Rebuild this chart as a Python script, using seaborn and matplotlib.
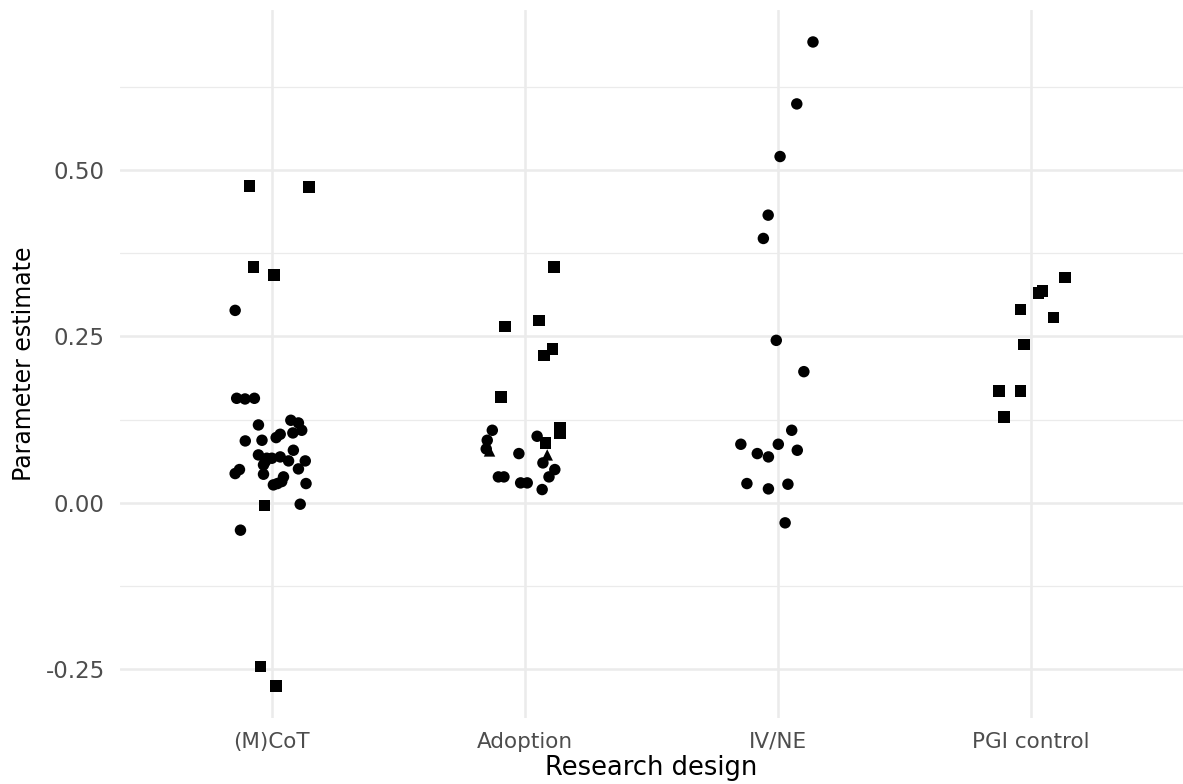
import numpy as np
import pandas as pd
import matplotlib
matplotlib.use("Agg")
import matplotlib.pyplot as plt
from matplotlib.ticker import MultipleLocator
import seaborn as sns

categories = ["(M)CoT", "Adoption", "IV/NE", "PGI control"]

# (M)CoT
mcot_est = [0.476, 0.474, 0.354, 0.342, 0.289, -0.004, -0.041, -0.246, -0.275,
            0.157, 0.156, 0.157, 0.117, 0.124, 0.120, 0.109, 0.105, 0.103, 0.098,
            0.093, 0.094, 0.079, 0.072, 0.067, 0.067, 0.069, 0.063, 0.063, 0.057,
            0.062, 0.050, 0.044, 0.051, 0.043, 0.039, 0.032, 0.027, 0.029, 0.029,
            -0.002]
mcot_jit = [-0.089, 0.146, -0.072, 0.009, -0.145, -0.028, -0.124, -0.044, 0.016,
            -0.139, -0.106, -0.069, -0.053, 0.075, 0.105, 0.118, 0.083, 0.033, 0.017,
            -0.105, -0.039, 0.085, -0.053, -0.020, 0.000, 0.033, 0.066, 0.132, -0.033,
            -0.026, -0.128, -0.145, 0.105, -0.033, 0.046, 0.039, 0.006, 0.022, 0.135,
            0.112]
mcot_shape = ["square", "square", "square", "square", "circle", "square", "circle", "square", "square"] + ["circle"] * 31

# Adoption
adop_est = [0.354, 0.274, 0.265, 0.231, 0.221, 0.159,
            0.109, 0.094, 0.081, 0.078, 0.074, 0.100, 0.090, 0.072, 0.060,
            0.113, 0.104, 0.050, 0.039, 0.039, 0.039, 0.030, 0.030, 0.020]
adop_jit = [0.114, 0.055, -0.079, 0.108, 0.075, -0.095,
            -0.129, -0.149, -0.153, -0.140, -0.024, 0.048, 0.082, 0.088, 0.071,
            0.138, 0.138, 0.118, 0.095, -0.105, -0.083, -0.017, 0.009, 0.068]
adop_shape = ["square"] * 6 + ["circle", "circle", "circle", "triangle", "circle", "circle",
                               "square", "triangle", "circle", "square", "square",
                               "circle", "circle", "circle", "circle", "circle", "circle", "circle"]

# IV/NE
ivne_est = [0.692, 0.599, 0.520, 0.432, 0.397, 0.244, 0.197, 0.109, 0.088, 0.088,
            0.079, 0.074, 0.069, 0.029, 0.021, 0.028, -0.030]
ivne_jit = [0.138, 0.074, 0.008, -0.039, -0.058, -0.007, 0.102, 0.054, -0.147, 0.001,
            0.076, -0.082, -0.038, -0.123, -0.038, 0.039, 0.028]
ivne_shape = ["circle"] * 17

# PGI control
pgi_est = [0.338, 0.318, 0.315, 0.290, 0.278, 0.238, 0.168, 0.168, 0.129]
pgi_jit = [0.134, 0.045, 0.028, -0.041, 0.088, -0.029, -0.127, -0.041, -0.108]
pgi_shape = ["square"] * 9

groups = [(mcot_est, mcot_jit, mcot_shape), (adop_est, adop_jit, adop_shape),
          (ivne_est, ivne_jit, ivne_shape), (pgi_est, pgi_jit, pgi_shape)]

rows = []
for i, (est, jit, shp) in enumerate(groups):
    for e, j, s in zip(est, jit, shp):
        rows.append({"design": categories[i], "pos": i + j, "estimate": e, "shape": s})
df = pd.DataFrame(rows)

sns.set_theme(style="white")
plt.rcParams["font.family"] = ["DejaVu Sans"]

fig = plt.figure(figsize=(11.83, 7.84), dpi=100)
ax = fig.add_axes([120 / 1183, 66 / 784, 1063 / 1183, 708 / 784])

sns.scatterplot(data=df, x="pos", y="estimate", style="shape",
                markers={"circle": "o", "square": "s", "triangle": "^"},
                color="black", edgecolor="none", s=68, legend=False, ax=ax, zorder=3)

ax.set_xlim(-0.6, 3.6)
ax.set_ylim(-0.323, 0.740)
ax.set_xticks(range(len(categories)))
ax.set_xticklabels(categories)
ax.yaxis.set_major_locator(MultipleLocator(0.25))
ax.yaxis.set_minor_locator(MultipleLocator(0.125))
ax.yaxis.set_major_formatter(matplotlib.ticker.FormatStrFormatter("%.2f"))

ax.grid(which="major", axis="both", color="#EBEBEB", linewidth=1.8, zorder=0)
ax.grid(which="minor", axis="y", color="#EBEBEB", linewidth=0.9, zorder=0)
ax.set_axisbelow(True)
for sp in ax.spines.values():
    sp.set_visible(False)
ax.tick_params(axis="x", which="both", length=0, labelsize=15.5, colors="#4D4D4D", pad=10)
ax.tick_params(axis="y", which="both", length=0, labelsize=16.5, colors="#4D4D4D", pad=11)

ax.set_xlabel("Research design", fontsize=18.5, color="black", labelpad=2)
ax.set_ylabel("Parameter estimate", fontsize=17, color="black", labelpad=7)

fig.savefig("out.png", dpi=100)
